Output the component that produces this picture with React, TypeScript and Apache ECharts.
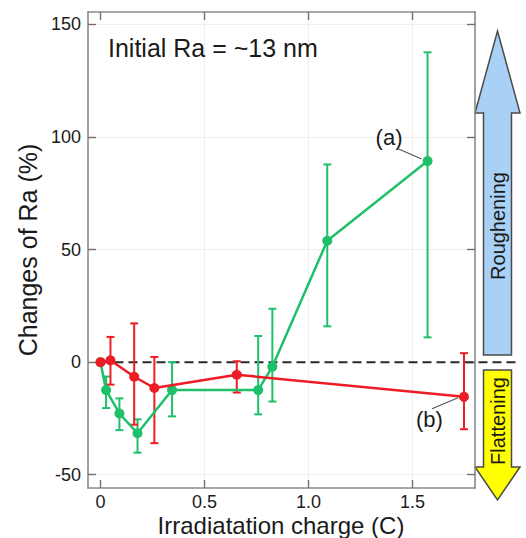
import React, { useEffect, useRef } from "react";
import * as echarts from "echarts";

// ---- data ----
const greenX = [0, 0.027, 0.091, 0.178, 0.344, 0.758, 0.826, 1.09, 1.572];
const greenY = [0, -12.4, -22.8, -31.6, -12.4, -12.4, -2.0, 53.9, 89.3];
const greenLow = [null, -20.4, -30.2, -40.2, -24.1, -23.2, -17.5, 15.9, 11];
const greenHigh = [null, -6.4, -16.1, -25.4, 0, 11.6, 23.7, 87.8, 137.6];

const redX = [0, 0.048, 0.162, 0.259, 0.655, 1.747];
const redY = [0, 0.8, -6.5, -11.5, -5.6, -15.4];
const redLow = [null, -10, -27.8, -36, -13.5, -29.8];
const redHigh = [null, 11.2, 17.2, 2.3, 0.4, 4.0];

const xTicks = [0, 0.5, 1.0, 1.5];
const yTicks = [-50, 0, 50, 100, 150];

const xMin = -0.06;
const xMax = 1.8;
const yMin = -55.9;
const yMax = 155.5;

const GREEN = "#1fc06a";
const RED = "#ee1c24";
const FONT = "'Liberation Sans', Arial, sans-serif";
const TXT = "#1a1a1a";

function pairs(xs: number[], ys: number[]) {
  return xs.map((x, i) => [x, ys[i]]);
}
function errData(xs: number[], lo: (number | null)[], hi: (number | null)[]) {
  const out: number[][] = [];
  xs.forEach((x, i) => {
    if (lo[i] != null && hi[i] != null) out.push([x, lo[i] as number, hi[i] as number]);
  });
  return out;
}

function errSeries(data: number[][], color: string) {
  return {
    type: "custom",
    data,
    encode: { x: 0, y: [1, 2] },
    z: 3,
    silent: true,
    renderItem: (_params: any, api: any) => {
      const x = api.value(0);
      const lo = api.value(1);
      const hi = api.value(2);
      const pTop = api.coord([x, hi]);
      const pBot = api.coord([x, lo]);
      const hw = 4;
      const style = { stroke: color, lineWidth: 2 };
      return {
        type: "group",
        children: [
          { type: "line", shape: { x1: pTop[0], y1: pTop[1], x2: pBot[0], y2: pBot[1] }, style },
          { type: "line", shape: { x1: pTop[0] - hw, y1: pTop[1], x2: pTop[0] + hw, y2: pTop[1] }, style },
          { type: "line", shape: { x1: pBot[0] - hw, y1: pBot[1], x2: pBot[0] + hw, y2: pBot[1] }, style },
        ],
      };
    },
  };
}

const labelX = (v: number) => (Math.abs(v) < 1e-9 ? "0" : v.toFixed(1));
const labelY = (v: number) => String(Math.round(v));

export default function App() {
  const ref = useRef<HTMLDivElement>(null);
  useEffect(() => {
    document.body.style.margin = "0";
    if (!ref.current) return;
    const chart = echarts.init(ref.current, undefined, { renderer: "svg" });
    const axisLineStyle = { color: "#8a8a8a", width: 1.6 };
    const tickStyle = { color: "#707070", width: 1.4 };
    const gridStyle = { color: "#efefef", width: 1, type: "solid" };

    const gridLines = [
      ...xTicks.filter((v) => v !== 0).map((v) => ({ xAxis: v })),
      ...yTicks.filter((v) => v !== 0).map((v) => ({ yAxis: v })),
    ];

    const xBase = (position: string, withLabels: boolean) => ({
      type: "value",
      min: xMin,
      max: xMax,
      position,
      axisLine: { show: true, onZero: false, lineStyle: axisLineStyle },
      axisTick: { show: true, inside: true, length: 8, lineStyle: tickStyle, customValues: xTicks },
      axisLabel: withLabels
        ? { show: true, customValues: xTicks, formatter: labelX, fontSize: 18, color: TXT, margin: 5, fontFamily: FONT }
        : { show: false },
      splitLine: { show: false },
    });
    const yBase = (position: string, withLabels: boolean) => ({
      type: "value",
      min: yMin,
      max: yMax,
      position,
      axisLine: { show: true, onZero: false, lineStyle: axisLineStyle },
      axisTick: { show: true, inside: true, length: 8, lineStyle: tickStyle, customValues: yTicks },
      axisLabel: withLabels
        ? { show: true, customValues: yTicks, formatter: labelY, fontSize: 18, color: TXT, margin: 7, fontFamily: FONT }
        : { show: false },
      splitLine: { show: false },
    });

    chart.setOption({
      animation: false,
      backgroundColor: "#ffffff",
      textStyle: { fontFamily: FONT },
      grid: { left: 88, right: 51, top: 12, bottom: 50, containLabel: false, outerBoundsMode: "none" },
      xAxis: [xBase("bottom", true), xBase("top", false)],
      yAxis: [
        {
          ...yBase("left", true),
          name: "Changes of Ra (%)",
          nameLocation: "middle",
          nameRotate: 90,
          nameGap: 44,
          nameTextStyle: { fontSize: 25, color: TXT, fontFamily: FONT },
        },
        yBase("right", false),
      ],
      series: [
        errSeries(errData(greenX, greenLow, greenHigh), GREEN),
        {
          type: "line",
          data: pairs(greenX, greenY),
          symbol: "circle",
          symbolSize: 10,
          showSymbol: true,
          lineStyle: { color: GREEN, width: 2.5 },
          itemStyle: { color: GREEN },
          z: 4,
          markLine: {
            silent: true,
            symbol: ["none", "none"],
            label: { show: false },
            lineStyle: gridStyle,
            z: 0,
            data: gridLines,
          },
        },
        errSeries(errData(redX, redLow, redHigh), RED),
        {
          type: "line",
          data: pairs(redX, redY),
          symbol: "circle",
          symbolSize: 10,
          showSymbol: true,
          lineStyle: { color: RED, width: 2.5 },
          itemStyle: { color: RED },
          z: 5,
        },
      ],
    });

    const px = (x: number, y: number) => chart.convertToPixel({ gridIndex: 0 }, [x, y]) as number[];
    const zero = px(0, 0);
    const pa = px(greenX[8], greenY[8]);
    const pb = px(redX[5], redY[5]);

    const arrowStroke = "#4a4a4a";
    chart.setOption({
      graphic: [
        {
          type: "line",
          z: 1,
          shape: { x1: zero[0], y1: zero[1], x2: 519, y2: zero[1] },
          style: { stroke: "#2a2a2a", lineWidth: 2, lineDash: [9, 5] },
        },
        {
          type: "text",
          x: 281,
          y: 537,
          style: { text: "Irradiatation charge (C)", fontSize: 24, fill: TXT, fontFamily: FONT, align: "center", verticalAlign: "bottom" },
        },
        {
          type: "text",
          x: 108,
          y: 48,
          style: { text: "Initial Ra = ~13 nm", fontSize: 25, fill: TXT, fontFamily: FONT, verticalAlign: "middle" },
        },
        {
          type: "text",
          x: pa[0] - 38.5,
          y: pa[1] - 24,
          style: { text: "(a)", fontSize: 22, fill: TXT, fontFamily: FONT, align: "center", verticalAlign: "middle" },
        },
        {
          type: "line",
          shape: { x1: pa[0] - 30, y1: pa[1] - 12.5, x2: pa[0] - 6, y2: pa[1] - 2 },
          style: { stroke: "#555555", lineWidth: 1.2 },
        },
        {
          type: "text",
          x: pb[0] - 34.5,
          y: pb[1] + 23,
          style: { text: "(b)", fontSize: 22, fill: TXT, fontFamily: FONT, align: "center", verticalAlign: "middle" },
        },
        {
          type: "line",
          shape: { x1: pb[0] - 32, y1: pb[1] + 12, x2: pb[0] - 6, y2: pb[1] + 1 },
          style: { stroke: "#555555", lineWidth: 1.2 },
        },
        {
          type: "polygon",
          shape: {
            points: [
              [483.5, 355],
              [483.5, 113],
              [475, 113],
              [497.5, 31],
              [520, 113],
              [511.5, 113],
              [511.5, 355],
            ],
          },
          style: { fill: "#a9d1f5", stroke: arrowStroke, lineWidth: 1.5 },
        },
        {
          type: "polygon",
          shape: {
            points: [
              [483.5, 370],
              [511.5, 370],
              [511.5, 467],
              [520, 467],
              [497.5, 500],
              [475, 467],
              [483.5, 467],
            ],
          },
          style: { fill: "#ffff00", stroke: arrowStroke, lineWidth: 1.5 },
        },
        {
          type: "text",
          x: 497.5,
          y: 226,
          rotation: Math.PI / 2,
          style: { text: "Roughening", fontSize: 20, fill: TXT, fontFamily: FONT, align: "center", verticalAlign: "middle" },
        },
        {
          type: "text",
          x: 497.5,
          y: 421,
          rotation: Math.PI / 2,
          style: { text: "Flattening", fontSize: 20, fill: TXT, fontFamily: FONT, align: "center", verticalAlign: "middle" },
        },
      ],
    });

    return () => chart.dispose();
  }, []);
  return <div ref={ref} style={{ width: 526, height: 538 }} />;
}
